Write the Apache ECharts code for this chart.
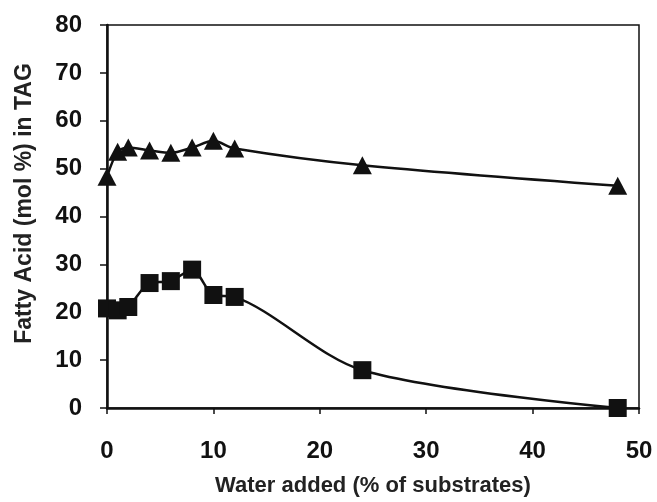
<!DOCTYPE html>
<html><head><meta charset="utf-8">
<script src="https://cdn.jsdelivr.net/npm/echarts@6/dist/echarts.min.js"></script>
<style>html,body{margin:0;padding:0;background:#fff}#c{width:657px;height:502px}</style>
</head><body><div id="c"></div>
<script>
const waterAdded = [0, 1, 2, 4, 6, 8, 10, 12, 24, 48];
const triangleSeries = [48.3, 53.5, 54.4, 53.8, 53.3, 54.4, 55.8, 54.2, 50.7, 46.4];
const squareSeries = [20.8, 20.4, 21.1, 26.1, 26.5, 28.9, 23.6, 23.2, 7.9, 0.0];
const xTicks = [0, 10, 20, 30, 40, 50];
const yTicks = [0, 10, 20, 30, 40, 50, 60, 70, 80];

const pairs = ys => waterAdded.map((x, i) => [x, ys[i]]);
const chart = echarts.init(document.getElementById('c'));
const font = '"Liberation Sans", Arial, sans-serif';
chart.setOption({
  animation: false,
  backgroundColor: '#fff',
  grid: { left: 107, right: 18, top: 25, bottom: 91, show: true, borderColor: '#111', borderWidth: 1.5 },
  xAxis: {
    type: 'value', min: xTicks[0], max: xTicks[xTicks.length - 1], interval: 10,
    name: 'Water added (% of substrates)', nameLocation: 'middle', nameGap: 67,
    nameTextStyle: { fontFamily: font, fontWeight: 'bold', fontSize: 22, color: '#222' },
    axisLine: { lineStyle: { color: '#111', width: 2.5 } },
    axisTick: { show: true, length: 6, lineStyle: { color: '#111', width: 1.5 } },
    axisLabel: { fontFamily: font, fontWeight: 'bold', fontSize: 24, color: '#111', margin: 31 },
    splitLine: { show: false }
  },
  yAxis: {
    type: 'value', min: yTicks[0], max: yTicks[yTicks.length - 1], interval: 10,
    name: 'Fatty Acid (mol %) in TAG', nameLocation: 'middle', nameGap: 71,
    nameTextStyle: { fontFamily: font, fontWeight: 'bold', fontSize: 23, color: '#222', padding: [0, 0, 0, 26] },
    axisLine: { show: true, lineStyle: { color: '#111', width: 2.5 } },
    axisTick: { show: true, length: 7, lineStyle: { color: '#111', width: 1.5 } },
    axisLabel: { fontFamily: font, fontWeight: 'bold', fontSize: 24, color: '#111', margin: 25 },
    splitLine: { show: false }
  },
  series: [
    {
      type: 'line', data: pairs(triangleSeries), smooth: 0.3,
      symbol: 'triangle', symbolSize: [19, 18],
      itemStyle: { color: '#111' }, lineStyle: { color: '#111', width: 2.5 }
    },
    {
      type: 'line', data: pairs(squareSeries), smooth: 0.3,
      symbol: 'rect', symbolSize: 18,
      itemStyle: { color: '#111' }, lineStyle: { color: '#111', width: 2.5 }
    }
  ]
});
</script></body></html>
